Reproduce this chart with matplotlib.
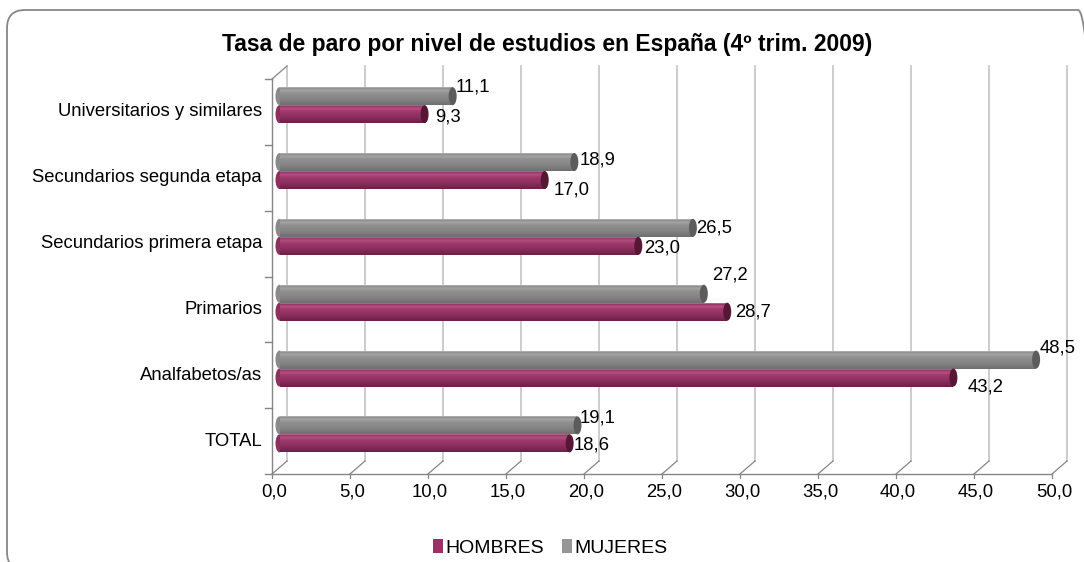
import matplotlib
matplotlib.use("Agg")
import matplotlib.pyplot as plt
import matplotlib.transforms as mtransforms
from matplotlib.patches import Ellipse, FancyBboxPatch, Patch
import numpy as np
from matplotlib.colors import LinearSegmentedColormap

plt.rcParams['font.family'] = ['Liberation Sans', 'DejaVu Sans']

# ---------------- data ----------------
title = "Tasa de paro por nivel de estudios en España (4º trim. 2009)"
categories = ["TOTAL", "Analfabetos/as", "Primarios", "Secundarios primera etapa",
              "Secundarios segunda etapa", "Universitarios y similares"]
hombres = [18.6, 43.2, 28.7, 23.0, 17.0, 9.3]
mujeres = [19.1, 48.5, 27.2, 26.5, 18.9, 11.1]
series_names = ["HOMBRES", "MUJERES"]
xticks = [0, 5, 10, 15, 20, 25, 30, 35, 40, 45, 50]

# label offsets (pixels) relative to bar end, layout only
off_h = [(22, -2), (32, -9), (26, 0), (24, -2), (27, -10), (23, -3)]
off_m = [(20, 7), (22, 12), (26, 19), (21, 0), (23, 2), (20, 9)]

# ---------------- layout ----------------
W, H = 1084, 562
fig = plt.figure(figsize=(W / 100, H / 100), dpi=100)
fig.patch.set_facecolor('white')

AX_L, AX_R, AX_T, AX_B = 272, 1052, 79, 474
ax = fig.add_axes([AX_L / W, 1 - AX_B / H, (AX_R - AX_L) / W, (AX_B - AX_T) / H])
XMAX, YMAX = 50, 6
ax.set_xlim(0, XMAX)
ax.set_ylim(0, YMAX)
ax.axis('off')

pxx = XMAX / (AX_R - AX_L)   # data per pixel x
pxy = YMAX / (AX_B - AX_T)   # data per pixel y
BX, BY = 15 * pxx, 13 * pxy  # back-wall depth offset
MX, MY = BX / 2, BY / 2      # mid depth

grid_c = '#BFBFBF'
axis_c = '#868686'

# back wall gridlines
for v in xticks:
    ax.plot([v + BX, v + BX], [BY, YMAX + BY], color=grid_c, lw=1.1, clip_on=False, zorder=1)
    # floor diagonals
    ax.plot([v, v + BX], [0, BY], color=axis_c, lw=0.9, clip_on=False, zorder=1)
    # tick marks
    ax.plot([v, v], [0, -4 * pxy], color=axis_c, lw=0.9, clip_on=False, zorder=1)
    ax.annotate(f"{v:.1f}".replace('.', ','), xy=(v, 0), xytext=(2, -18),
                textcoords='offset pixels', ha='center', va='center', fontsize=13.3,
                annotation_clip=False)

# top-left diagonal
ax.plot([0, BX], [YMAX, YMAX + BY], color=axis_c, lw=0.9, clip_on=False, zorder=1)
# front axes
ax.plot([0, XMAX], [0, 0], color=axis_c, lw=1.0, clip_on=False, zorder=2)
ax.plot([0, 0], [0, YMAX], color=axis_c, lw=1.0, clip_on=False, zorder=2)
for k in range(YMAX + 1):
    ax.plot([-7 * pxx, 0], [k, k], color=axis_c, lw=1.0, clip_on=False, zorder=2)

# category labels
for i, cat in enumerate(categories):
    ax.annotate(cat, xy=(0, i + 0.5), xytext=(-10, 0), textcoords='offset pixels',
                ha='right', va='center', fontsize=13.3, annotation_clip=False)

# ---------------- bars ----------------
T = 18 * pxy
C_GREY = 0.64
C_MAG = C_GREY - T

cmap_m = LinearSegmentedColormap.from_list('m', [(0, '#6A2046'), (0.35, '#8C2E5E'),
                                               (0.65, '#9F3A6B'), (0.82, '#B04F80'),
                                               (0.92, '#9C3768'), (1.0, '#C4719A')])
cmap_g = LinearSegmentedColormap.from_list('g', [(0, '#6E6E6E'), (0.35, '#858585'),
                                               (0.65, '#8F8F8F'), (0.82, '#A2A2A2'),
                                               (0.92, '#919191'), (1.0, '#B8B8B8')])

NS = 18
ypos = np.arange(len(categories))


def draw_series(vals, cpos, cmap, cap_c, body_c):
    yc = ypos + cpos + MY
    h = T / NS
    for k in range(NS):
        col = cmap((k + 0.5) / NS)
        ax.barh(yc - T / 2 + (k + 0.5) * h, vals, left=MX, height=h * 1.02,
                color=col, linewidth=0, clip_on=False, zorder=3)
    for y, v in zip(yc, vals):
        ax.add_patch(Ellipse((MX, y), 8 * pxx, T, facecolor=body_c, edgecolor='none',
                             zorder=2.9, clip_on=False))
        ax.add_patch(Ellipse((v + MX, y), 8 * pxx, T, facecolor=cap_c, edgecolor='none',
                             zorder=4, clip_on=False))
    return yc


yc_g = draw_series(mujeres, C_GREY, cmap_g, '#5C5C5C', '#8A8A8A')
yc_m = draw_series(hombres, C_MAG, cmap_m, '#561634', '#8E2F5E')

for vals, yc, offs in [(hombres, yc_m, off_h), (mujeres, yc_g, off_m)]:
    for v, y, (dx, dy) in zip(vals, yc, offs):
        ax.annotate(f"{v:.1f}".replace('.', ','), xy=(v + MX, y), xytext=(dx, dy),
                    textcoords='offset pixels', ha='center', va='center',
                    fontsize=13.3, annotation_clip=False, zorder=6)

# ---------------- title ----------------
fig.text(547 / W, 1 - 45 / H, title, ha='center', va='center', fontsize=16.5,
         fontweight='bold')

# ---------------- legend ----------------
handles = [Patch(facecolor='#993366', edgecolor='none'),
           Patch(facecolor='#969696', edgecolor='none')]
fig.legend(handles, series_names, loc='center', bbox_to_anchor=(550 / W, 1 - 548 / H),
           ncol=2, frameon=False, fontsize=14, handlelength=0.55, handleheight=0.7,
           handletextpad=0.1, columnspacing=0.9, borderaxespad=0)

# ---------------- border ----------------
border = FancyBboxPatch((7, H - 570), 1089, 560, boxstyle='round,pad=0,rounding_size=18',
                        transform=mtransforms.IdentityTransform(), facecolor='none',
                        edgecolor='#878787', linewidth=1.3)
fig.add_artist(border)

fig.savefig('out.png', dpi=100)
